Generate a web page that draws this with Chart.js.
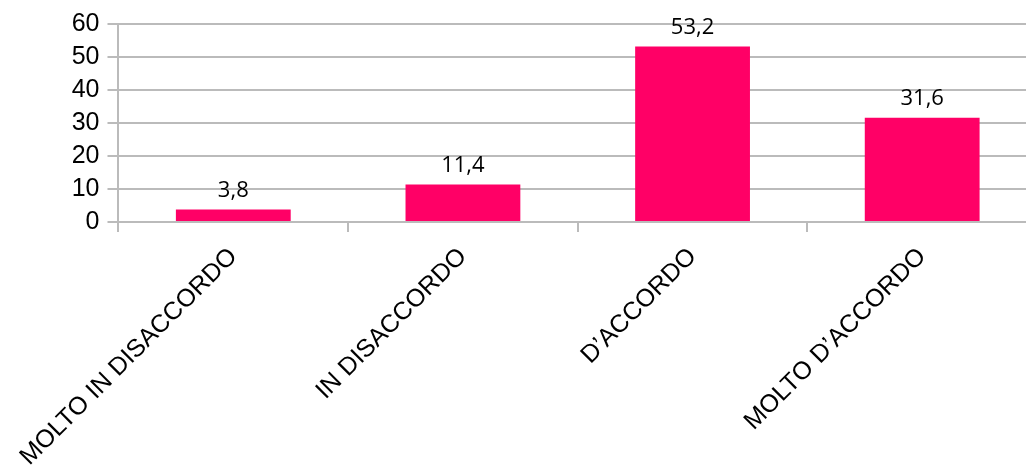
<!DOCTYPE html>
<html>
<head>
<meta charset="utf-8">
<script src="https://cdn.jsdelivr.net/npm/chart.js@4"></script>
<style>
  html, body { margin: 0; padding: 0; overflow: hidden; background: #fff; }
  canvas { display: block; }
</style>
</head>
<body>
<canvas id="chart" width="1040" height="470"></canvas>
<script>
const categories = ["MOLTO IN DISACCORDO", "IN DISACCORDO", "D\u2019ACCORDO", "MOLTO D\u2019ACCORDO"];
const values = [3.8, 11.4, 53.2, 31.6];
const yTicks = [0, 10, 20, 30, 40, 50, 60];

// writes the value above every bar, with a decimal comma
const valueLabels = {
  id: "valueLabels",
  afterDatasetsDraw(chart) {
    const ctx = chart.ctx;
    const meta = chart.getDatasetMeta(0);
    ctx.save();
    ctx.font = "22px 'Open Sans'";
    ctx.fillStyle = "#000";
    ctx.textAlign = "center";
    ctx.textBaseline = "middle";
    meta.data.forEach((bar, i) => {
      ctx.fillText(values[i].toFixed(1).replace(".", ","), bar.x, bar.y - 19);
    });
    ctx.restore();
  },
};

const gridColor = "#bbbbbb";

new Chart(document.getElementById("chart"), {
  type: "bar",
  data: {
    labels: categories,
    datasets: [
      {
        data: values,
        backgroundColor: "#ff0066",
        categoryPercentage: 1,
        barPercentage: 0.5,
      },
    ],
  },
  options: {
    responsive: false,
    animation: false,
    layout: { padding: { top: 24, right: 3, bottom: 0, left: 0 } },
    plugins: {
      legend: { display: false },
      tooltip: { enabled: false },
    },
    scales: {
      x: {
        grid: {
          drawOnChartArea: false,
          offset: true,
          tickLength: 10,
          color: gridColor,
          lineWidth: 2,
        },
        border: { color: gridColor, width: 2 },
        ticks: {
          autoSkip: false,
          maxRotation: 45,
          minRotation: 45,
          padding: 10,
          color: "#000",
          font: { family: "'Liberation Sans'", size: 25 },
        },
        afterFit(scale) {
          scale.height = 248;
        },
      },
      y: {
        min: 0,
        max: 60,
        afterBuildTicks(scale) {
          scale.ticks = yTicks.map((v) => ({ value: v }));
        },
        grid: { color: gridColor, tickLength: 11, lineWidth: 2 },
        border: { color: gridColor, width: 2 },
        ticks: {
          padding: 8,
          color: "#000",
          font: { family: "'Liberation Sans'", size: 25 },
        },
        afterFit(scale) {
          scale.width = 118;
        },
      },
    },
  },
  plugins: [valueLabels],
});
</script>
</body>
</html>
